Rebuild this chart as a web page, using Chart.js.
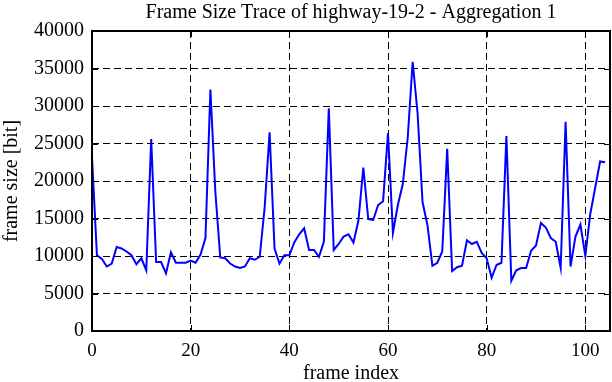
<!DOCTYPE html>
<html lang="en">
<head>
  <meta charset="UTF-8">
  <title>Frame Size Trace</title>
  <style>
    html, body { margin: 0; padding: 0; background: #fff; }
    .chartBox { width: 612px; height: 382px; }
  </style>
</head>
<body>
  <div class="chartBox">
    <canvas id="myChart" width="612" height="382"></canvas>
  </div>

  <script src="https://cdn.jsdelivr.net/npm/chart.js"></script>
  <script>
    // frame size [bit] per frame index 0..104
    const frameSize = [
      23200, 10100, 9600, 8600, 9000, 11200, 11000, 10600, 10100, 8900,
      9700, 8100, 25600, 9200, 9200, 7700, 10500, 9100, 9100, 9100,
      9400, 9100, 10200, 12400, 32200, 18600, 9800, 9700, 9000, 8600,
      8400, 8600, 9700, 9500, 9900, 16500, 26500, 11000, 9000, 10100,
      10100, 11800, 12900, 13700, 10800, 10800, 9900, 11900, 29700, 10800,
      11600, 12600, 12900, 11800, 14700, 21800, 14900, 14800, 16800, 17300,
      26400, 13100, 16800, 19600, 25800, 35900, 29000, 17200, 14100, 8700,
      9100, 10600, 24300, 8000, 8500, 8700, 12100, 11600, 11900, 10400,
      9700, 7100, 8800, 9100, 26000, 6700, 8100, 8400, 8400, 10700,
      11400, 14400, 13800, 12400, 11900, 8400, 27900, 8600, 12600, 14200,
      10000, 15600, 19100, 22600, 22500
    ];
    const frameIndex = frameSize.map((v, i) => i);
    const xTicks = [0, 20, 40, 60, 80, 100];
    const yTicks = [0, 5000, 10000, 15000, 20000, 25000, 30000, 35000, 40000];

    const serif = "'Liberation Serif', 'Times New Roman', serif";

    // frame + inward ticks, gnuplot style
    const framePlugin = {
      id: 'frame',
      afterDraw(chart) {
        const ctx = chart.ctx;
        const a = chart.chartArea;
        const xs = chart.scales.x, ys = chart.scales.y;
        ctx.save();
        ctx.strokeStyle = '#000';
        ctx.lineWidth = 1;
        ctx.beginPath();
        xTicks.forEach(t => {
          const p = Math.round(xs.getPixelForValue(t)) + 0.5;
          ctx.moveTo(p, a.bottom); ctx.lineTo(p, a.bottom - 6);
          ctx.moveTo(p, a.top); ctx.lineTo(p, a.top + 6);
        });
        yTicks.forEach(t => {
          const p = Math.round(ys.getPixelForValue(t)) + 0.5;
          ctx.moveTo(a.left, p); ctx.lineTo(a.left + 6, p);
          ctx.moveTo(a.right, p); ctx.lineTo(a.right - 6, p);
        });
        ctx.stroke();
        ctx.lineWidth = 2;
        ctx.strokeRect(a.left, a.top, a.right - a.left, a.bottom - a.top);
        ctx.restore();
      }
    };

    const data = {
      datasets: [{
        label: 'frame size',
        data: frameIndex.map(i => ({ x: i, y: frameSize[i] })),
        borderColor: '#0000ff',
        borderWidth: 2,
        pointRadius: 0,
        tension: 0,
        fill: false
      }]
    };

    const config = {
      type: 'line',
      data,
      options: {
        responsive: false,
        animation: false,
        layout: { padding: { left: 0, right: 2, top: 0, bottom: 0 } },
        plugins: {
          legend: { display: false },
          tooltip: { enabled: false },
          title: {
            display: true,
            text: 'Frame Size Trace of highway-19-2 - Aggregation 1',
            color: '#000',
            fullSize: false,
            font: { family: serif, size: 20, weight: 'normal', lineHeight: 1.2 },
            padding: { top: 1, bottom: 6 }
          }
        },
        scales: {
          x: {
            type: 'linear',
            min: 0,
            max: 105,
            afterFit: s => { s.height = 51; },
            afterBuildTicks: s => { s.ticks = xTicks.map(v => ({ value: v })); },
            ticks: { color: '#000', padding: 9, font: { family: serif, size: 19 } },
            grid: { color: '#000', lineWidth: 1, drawTicks: false },
            border: { display: false, dash: [7, 4] },
            title: {
              display: true, text: 'frame index', color: '#000',
              font: { family: serif, size: 20, lineHeight: 0.8 }, padding: { top: 0, bottom: 0 }
            }
          },
          y: {
            min: 0,
            max: 40000,
            afterFit: s => { s.width = 92; },
            afterBuildTicks: s => { s.ticks = yTicks.map(v => ({ value: v })); },
            ticks: {
              color: '#000', padding: 8, font: { family: serif, size: 20 },
              callback: v => String(v)
            },
            grid: { color: '#000', lineWidth: 1, drawTicks: false },
            border: { display: false, dash: [7, 4] },
            title: {
              display: true, text: 'frame size [bit]', color: '#000',
              font: { family: serif, size: 20 }, padding: { top: 0, bottom: 0 }
            }
          }
        }
      },
      plugins: [framePlugin]
    };

    const myChart = new Chart(document.getElementById('myChart'), config);
  </script>
</body>
</html>
